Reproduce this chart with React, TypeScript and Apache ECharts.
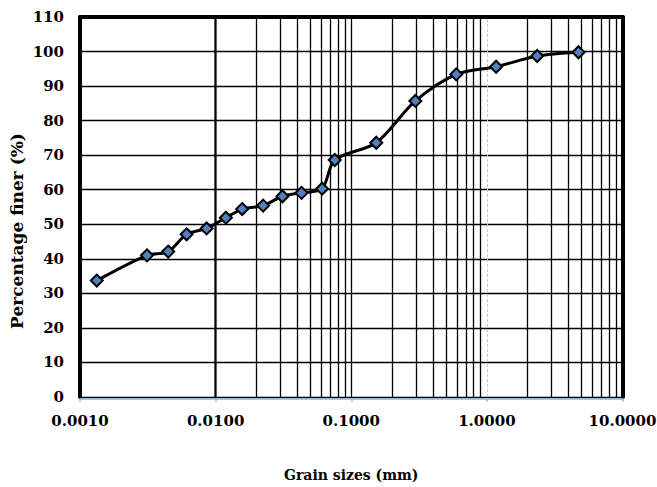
import React, { useEffect, useRef } from "react";
import * as echarts from "echarts";

const grainSizes = [0.00133, 0.00312, 0.00447, 0.00611, 0.00858, 0.0119, 0.0157, 0.0224, 0.0311, 0.043, 0.061, 0.0756, 0.153, 0.297, 0.595, 1.17, 2.35, 4.74];
const percentFiner = [33.7, 41.0, 42.1, 47.1, 48.8, 51.9, 54.4, 55.4, 58.1, 59.1, 60.3, 68.6, 73.6, 85.7, 93.4, 95.6, 98.7, 99.8];

const decades = [0.001, 0.01, 0.1, 1];
const minorMultipliers = [2, 3, 4, 5, 6, 7, 8, 9];
const majorBlackLines = [0.01, 0.1];
const majorGrayLines = [1];

const FONT = '"DejaVu Serif", "Liberation Serif", serif';

export default function App() {
  const ref = useRef<HTMLDivElement>(null);
  useEffect(() => {
    if (!ref.current) return;
    const chart = echarts.init(ref.current, null, { renderer: "svg" });
    const minorLines: number[] = [];
    decades.forEach((d) => minorMultipliers.forEach((m) => minorLines.push(+(d * m).toPrecision(6))));
    const gridLineData = [
      ...minorLines.map((v) => ({ xAxis: v, lineStyle: { color: "#000", width: 1.3, type: "solid" } })),
      ...majorBlackLines.map((v) => ({ xAxis: v, lineStyle: { color: "#000", width: 1.3, type: "solid" } })),
      ...majorGrayLines.map((v) => ({ xAxis: v, lineStyle: { color: "#c8c8c8", width: 1, type: [3, 2] } })),
    ];
    const option: any = {
      animation: false,
      backgroundColor: "#fff",
      grid: { left: 80, right: 34.5, top: 17, bottom: 90, containLabel: false, outerBoundsMode: "none" },
      xAxis: [
        {
          type: "log",
          logBase: 10,
          min: 0.001,
          max: 10,
          position: "bottom",
          offset: 1.5,
          axisLine: { show: true, onZero: false, lineStyle: { color: "#8db3e2", width: 1.5 } },
          axisTick: { show: true, length: 3, lineStyle: { color: "#8db3e2", width: 1.5 } },
          splitLine: { show: false },
          minorTick: { show: false },
          minorSplitLine: { show: false },
          axisLabel: {
            show: true,
            showMinLabel: true,
            showMaxLabel: true,
            margin: 15,
            color: "#000",
            fontFamily: FONT,
            fontWeight: "bold",
            fontSize: 15,
            formatter: (v: number) => v.toFixed(4),
          },
          name: "Grain sizes (mm)",
          nameLocation: "middle",
          nameGap: 69,
          nameTextStyle: { color: "#000", fontFamily: FONT, fontWeight: "bold", fontSize: 14 },
        },
        {
          type: "log",
          logBase: 10,
          min: 0.001,
          max: 10,
          position: "top",
          axisLine: { show: true, onZero: false, lineStyle: { color: "#000", width: 4 } },
          axisTick: { show: false },
          axisLabel: { show: false },
          splitLine: { show: false },
        },
      ],
      yAxis: [
        {
          type: "value",
          min: 0,
          max: 110,
          interval: 10,
          position: "left",
          axisLine: { show: true, onZero: false, lineStyle: { color: "#000", width: 4 } },
          axisTick: { show: false },
          axisLabel: {
            margin: 16,
            color: "#000",
            fontFamily: FONT,
            fontWeight: "bold",
            fontSize: 15,
          },
          splitLine: { show: true, lineStyle: { color: "#000", width: 1.3 } },
        },
        {
          type: "value",
          min: 0,
          max: 110,
          interval: 10,
          position: "right",
          axisLine: { show: true, onZero: false, lineStyle: { color: "#000", width: 4 } },
          axisTick: { show: false },
          axisLabel: { show: false },
          splitLine: { show: false },
        },
      ],
      graphic: [
        {
          type: "text",
          x: 17,
          y: 231,
          rotation: Math.PI / 2,
          style: {
            text: "Percentage finer (%)",
            fill: "#000",
            font: `bold 17px ${FONT}`,
            textAlign: "center",
            textVerticalAlign: "middle",
          },
        },
      ],
      series: [
        {
          type: "line",
          data: [],
          z: 1,
          silent: true,
          markLine: {
            silent: true,
            symbol: "none",
            label: { show: false },
            animation: false,
            data: gridLineData,
          },
        },
        {
          type: "line",
          z: 5,
          data: grainSizes.map((x, i) => [x, percentFiner[i]]),
          smooth: 0.3,
          symbol: "diamond",
          symbolSize: 12,
          lineStyle: { color: "#000", width: 3 },
          itemStyle: { color: "#4f81bd", borderColor: "#000", borderWidth: 2 },
        },
      ],
    };
    chart.setOption(option);
    return () => chart.dispose();
  }, []);
  return <div ref={ref} style={{ position: "absolute", left: 0, top: 0, width: 657, height: 487 }} />;
}
